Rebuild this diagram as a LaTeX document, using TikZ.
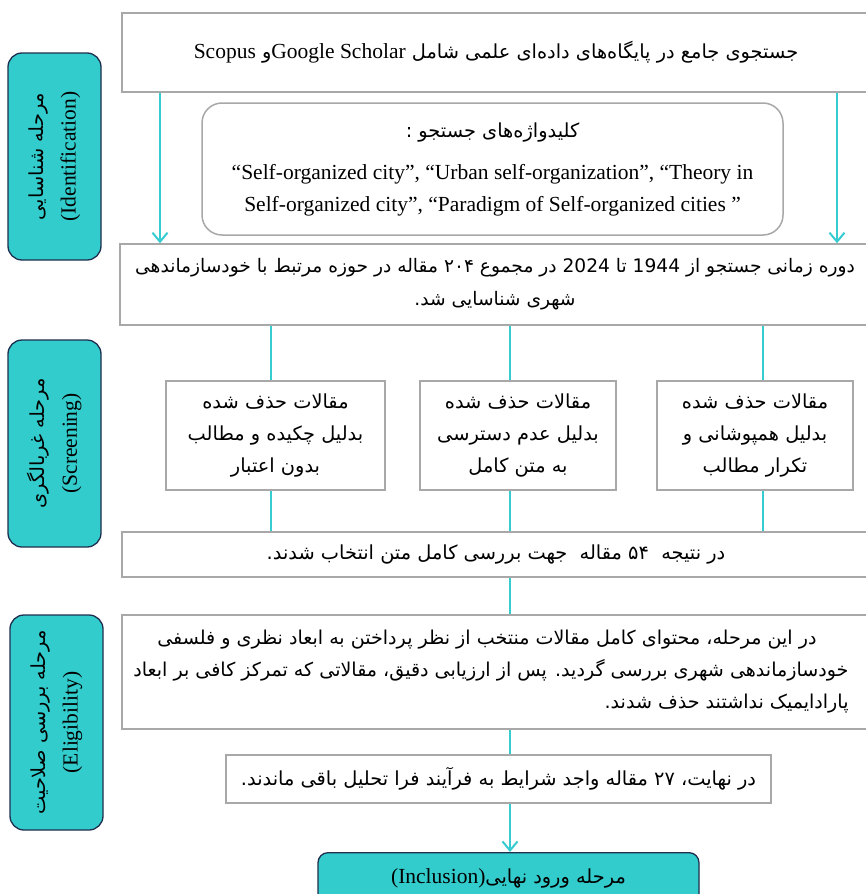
\documentclass[tikz,border=0pt]{standalone}
\usepackage{fontspec}
\setmainfont{Liberation Serif}
\newfontfamily\fa[Script=Arabic,Scale=0.9]{DejaVu Sans}
\TeXXeTstate=1
\usetikzlibrary{arrows.meta}
\definecolor{StageTeal}{HTML}{33CCCC}
\definecolor{StageEdge}{HTML}{1F2F4F}
\definecolor{BoxGray}{HTML}{A8A8A8}
\definecolor{FlowTeal}{HTML}{36CCD0}

\begin{document}
\begin{tikzpicture}[
    x=1pt, y=-1pt,
    >={Straight Barb[length=9pt,width=15pt]},
    font=\fontsize{21.5}{32}\selectfont,
    fatext/.style={font=\fontsize{21.5}{32}\selectfont\fa},
    stagebox/.style={draw=StageEdge, line width=1.3pt, fill=StageTeal, rounded corners=14pt, inner sep=0pt, align=center},
    plainbox/.style={draw=BoxGray, line width=1.5pt, fill=white, inner sep=0pt, align=center},
    flow/.style={FlowTeal, line width=2pt}
  ]
  \useasboundingbox (0,0) rectangle (866,894);
  \clip (0,0) rectangle (866,894);
  \fill[white] (0,0) rectangle (866,894);

  \node[stagebox, rotate=90, minimum width=207, minimum height=93] (idstage) at (54.5,156.5)
    {{\fa\beginR مرحله شناسایی\endR}\\(Identification)};
  \node[stagebox, rotate=90, minimum width=207, minimum height=93] (scrstage) at (54.5,443.5)
    {{\fa\beginR مرحله غربالگری\endR}\\(Screening)};
  \node[stagebox, rotate=90, minimum width=215, minimum height=93] (elstage) at (56.5,722.5)
    {{\fa\beginR مرحله بررسی صلاحیت\endR}\\(Eligibility)};

  \node[plainbox, fatext, minimum width=748, minimum height=79] (srch) at (496,52.5)
    {\beginR جستجوی جامع در پایگاه‌های داده‌ای علمی شامل \beginL{\rmfamily Google Scholar}\endL و \beginL{\rmfamily Scopus}\endL\endR};
  \node[plainbox, rounded corners=20pt, minimum width=581, minimum height=132] (kwbox) at (492.5,169)
    {{\fa\beginR کلیدواژه‌های جستجو :\endR}\\[10pt]
     “Self-organized city”, “Urban self-organization”, “Theory in\\
     Self-organized city”, “Paradigm of Self-organized cities ”};
  \node[plainbox, font=\fontsize{20.7}{33}\selectfont\fa, minimum width=750, minimum height=81] (period) at (495,284.5)
    {\beginR دوره زمانی جستجو از \beginL 1944\endL{} تا \beginL 2024\endL{} در مجموع \beginL ۲۰۴\endL{} مقاله در حوزه مرتبط با خودسازماندهی\endR\\
     \beginR شهری شناسایی شد.\endR};

  \node[plainbox, fatext, minimum width=219, minimum height=109] (exA) at (275.5,435.5)
    {\beginR مقالات حذف شده\endR\\\beginR بدلیل چکیده و مطالب\endR\\\beginR بدون اعتبار\endR};
  \node[plainbox, fatext, minimum width=196, minimum height=109] (exB) at (518,435.5)
    {\beginR مقالات حذف شده\endR\\\beginR بدلیل عدم دسترسی\endR\\\beginR به متن کامل\endR};
  \node[plainbox, fatext, minimum width=196, minimum height=109] (exC) at (755,435.5)
    {\beginR مقالات حذف شده\endR\\\beginR بدلیل همپوشانی و\endR\\\beginR تکرار مطالب\endR};

  \node[plainbox, fatext, minimum width=748, minimum height=45] (res54) at (496,554.5)
    {\beginR در نتیجه\ \ \beginL ۵۴\endL{} مقاله\ \ جهت بررسی کامل متن انتخاب شدند.\endR};
  \node[plainbox, minimum width=748, minimum height=114] (elig) at (496,672) {};
  \node[font=\fontsize{21.2}{32}\selectfont\fa, anchor=east, align=right, inner sep=0pt] (eligtext) at ([xshift=-22]elig.east)
    {\beginR در این مرحله، محتوای کامل مقالات منتخب از نظر پرداختن به ابعاد نظری و فلسفی\endR\hspace*{32pt}\\
     \beginR خودسازماندهی شهری بررسی گردید. پس از ارزیابی دقیق، مقالاتی که تمرکز کافی بر ابعاد\endR\\
     \beginR پارادایمیک نداشتند حذف شدند.\endR};
  \node[plainbox, fatext, minimum width=545, minimum height=48] (final27) at (498.5,779)
    {\beginR در نهایت، \beginL ۲۷\endL{} مقاله واجد شرایط به فرآیند فرا تحلیل باقی ماندند.\endR};
  \node[stagebox, rounded corners=10pt, minimum width=381, minimum height=52, anchor=north] (incl) at (508.5,852)
    {\beginR{\fa مرحله ورود نهایی}\beginL(Inclusion)\endL\endR};

  \coordinate (leftdrop) at (160,0);
  \coordinate (rightdrop) at (837,0);
  \coordinate (colA) at (271,0);
  \coordinate (colB) at (510,0);
  \coordinate (colC) at (763,0);

  \draw[flow,->] (srch.south -| leftdrop) -- (period.north -| leftdrop);
  \draw[flow,->] (srch.south -| rightdrop) -- (period.north -| rightdrop);
  \foreach \bx/\cl in {exA/colA,exB/colB,exC/colC} {
    \draw[flow] (period.south -| \cl) -- (\bx.north -| \cl);
    \draw[flow] (\bx.south -| \cl) -- (res54.north -| \cl);
  }
  \draw[flow] (res54.south -| colB) -- (elig.north -| colB);
  \draw[flow] (elig.south -| colB) -- (final27.north -| colB);
  \draw[flow,->] (final27.south -| colB) -- (incl.north -| colB);
\end{tikzpicture}
\end{document}
